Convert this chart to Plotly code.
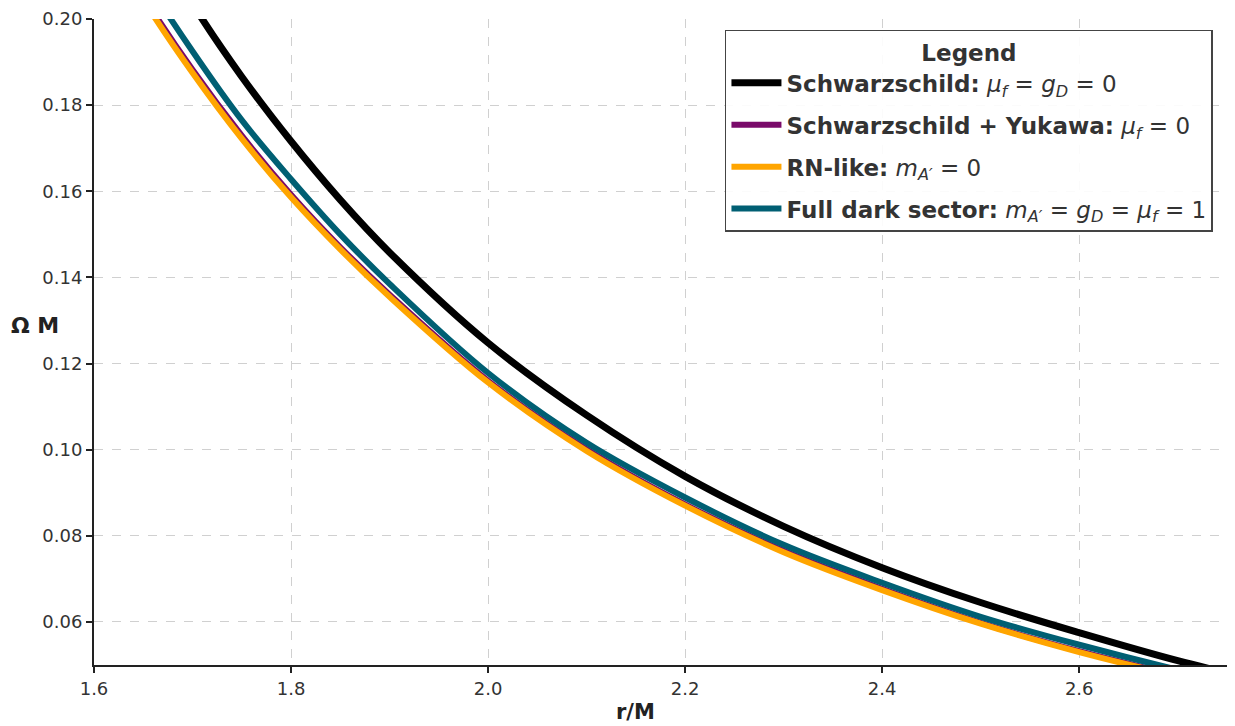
import plotly.graph_objects as go

# r/M sample points
r_vals = [1.60, 1.65, 1.70, 1.75, 1.80, 1.85, 1.90, 2.00, 2.10, 2.20, 2.30, 2.40, 2.50, 2.60, 2.70, 2.80]

# Omega*M readings per curve
schwarzschild = [0.244, 0.223, 0.2035, 0.1866, 0.1716, 0.158, 0.1458, 0.1248, 0.1080, 0.0938,
                 0.0822, 0.0726, 0.0645, 0.0575, 0.0510, 0.0455]
yukawa = [0.2248, 0.2053, 0.1882, 0.1729, 0.1592, 0.1470, 0.1360, 0.1160, 0.1001, 0.0873,
          0.0765, 0.0677, 0.0598, 0.0532, 0.0476, 0.0427]
rn_like = [0.224, 0.2045, 0.1875, 0.1722, 0.1586, 0.1465, 0.1355, 0.1156, 0.0997, 0.0870,
           0.0762, 0.0674, 0.0596, 0.0530, 0.0474, 0.0425]
full_dark = [0.230, 0.210, 0.1925, 0.1765, 0.1628, 0.150, 0.1385, 0.1178, 0.1016, 0.0889,
             0.0779, 0.0691, 0.0612, 0.0547, 0.0489, 0.0438]

names = [
    "<b>Schwarzschild:</b> <i>μ<sub>f</sub></i> = <i>g<sub>D</sub></i> = 0",
    "<b>Schwarzschild + Yukawa:</b> <i>μ<sub>f</sub></i> = 0",
    "<b>RN-like:</b> <i>m<sub>A′</sub></i> = 0",
    "<b>Full dark sector:</b> <i>m<sub>A′</sub></i> = <i>g<sub>D</sub></i> = <i>μ<sub>f</sub></i> = 1",
]
colors = ["#000000", "#7A0A6A", "#FFA500", "#005F73"]
widths = [7, 6, 6, 6]
series = [schwarzschild, yukawa, rn_like, full_dark]

x_ticks = [1.6, 1.8, 2.0, 2.2, 2.4, 2.6]
y_ticks = [0.06, 0.08, 0.10, 0.12, 0.14, 0.16, 0.18, 0.20]

fig = go.Figure()
for i, (name, col, w, ys) in enumerate(zip(names, colors, widths, series)):
    fig.add_trace(go.Scatter(x=r_vals, y=ys, mode="lines", name=name, legendgroup=f"g{i}",
                             line=dict(color=col, width=w, shape="spline", smoothing=1.0)))

font_family = "DejaVu Sans"
fig.update_layout(
    width=1235, height=726,
    margin=dict(l=94, r=8, t=19, b=61),
    paper_bgcolor="white", plot_bgcolor="white",
    font=dict(family=font_family, size=18, color="#333333"),
    showlegend=True,
    legend=dict(
        x=0.9876, y=0.983, xanchor="right", yanchor="top",
        bgcolor="rgba(255,255,255,0.9)", bordercolor="#444444", borderwidth=1.5,
        font=dict(family=font_family, size=23, color="#333333"),
        title=dict(text="<b>Legend</b>", side="top center",
                   font=dict(family=font_family, size=23, color="#333333")),
        traceorder="grouped", tracegroupgap=9, itemwidth=50,
    ),
    xaxis=dict(
        range=[1.6, 2.75], tickvals=x_ticks, ticktext=[f"{v:.1f}" for v in x_ticks],
        showgrid=True, gridcolor="#d0d0d0", griddash="dash", gridwidth=1,
        showline=True, linecolor="#222222", linewidth=2, mirror=False,
        ticks="outside", ticklen=6, tickwidth=1.5, tickcolor="#222222",
        zeroline=False, tickfont=dict(size=18, color="#333333"),
    ),
    yaxis=dict(
        range=[0.05, 0.2], tickvals=y_ticks, ticktext=[f"{v:.2f}" for v in y_ticks],
        showgrid=True, gridcolor="#d0d0d0", griddash="dash", gridwidth=1,
        showline=True, linecolor="#222222", linewidth=2, mirror=False,
        ticks="outside", ticklen=6, tickwidth=1.5, tickcolor="#222222",
        zeroline=False, tickfont=dict(size=18, color="#333333"),
    ),
    annotations=[
        dict(text="<b>r/M</b>", xref="paper", yref="paper", x=0.478, y=-0.0728,
             xanchor="center", yanchor="middle", showarrow=False,
             font=dict(family=font_family, size=21, color="#222222")),
        dict(text="<b>Ω M</b>", xref="paper", yref="paper", x=-0.052, y=0.526,
             xanchor="center", yanchor="middle", showarrow=False,
             font=dict(family=font_family, size=22, color="#222222")),
    ],
)

fig.write_html("out.html")
